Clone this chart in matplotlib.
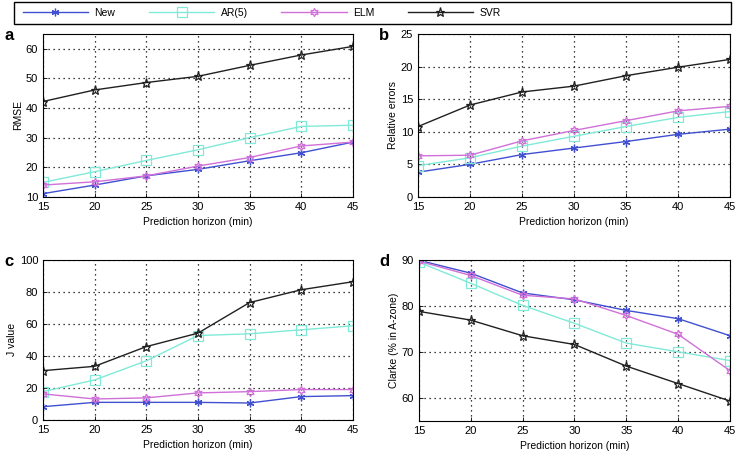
import matplotlib
matplotlib.use('Agg')
import matplotlib.pyplot as plt
from matplotlib.patches import Rectangle

plt.rcParams['font.family'] = ['Liberation Sans', 'DejaVu Sans']

horizon = [15, 20, 25, 30, 35, 40, 45]
series_names = ['New', 'AR(5)', 'ELM', 'SVR']

rmse_new = [11.1, 14.0, 17.1, 19.3, 22.2, 24.9, 28.5]
rmse_ar = [14.9, 18.5, 22.3, 25.9, 30.0, 33.8, 34.2]
rmse_elm = [14.0, 15.1, 17.1, 20.4, 23.3, 27.2, 28.5]
rmse_svr = [42.2, 46.1, 48.6, 50.7, 54.4, 57.9, 60.8]

rel_new = [3.8, 5.0, 6.5, 7.5, 8.5, 9.6, 10.4]
rel_ar = [4.8, 6.0, 7.8, 9.3, 10.8, 12.2, 13.1]
rel_elm = [6.3, 6.4, 8.6, 10.2, 11.7, 13.2, 13.9]
rel_svr = [10.8, 14.1, 16.1, 17.0, 18.6, 19.9, 21.1]

j_new = [8.3, 11.0, 11.0, 11.0, 10.6, 14.6, 15.2]
j_ar = [17.7, 25.0, 36.9, 52.7, 53.8, 56.3, 58.8]
j_elm = [16.3, 13.1, 13.8, 16.9, 17.7, 19.0, 19.0]
j_svr = [30.8, 33.5, 45.8, 54.2, 73.3, 81.3, 86.3]

clarke_new = [89.9, 87.1, 82.8, 81.3, 79.0, 77.2, 73.5]
clarke_ar = [89.5, 84.9, 80.1, 76.2, 71.9, 70.0, 68.1]
clarke_elm = [89.7, 86.6, 82.3, 81.5, 77.9, 73.8, 65.9]
clarke_svr = [78.8, 76.9, 73.5, 71.6, 66.9, 63.1, 59.3]

colors = ['#4050d0', '#80ead8', '#d070d8', '#202020']
markers = [(6, 2, 0), 's', (6, 1, 0), '*']
msizes = [5.5, 6.5, 6, 6.5]

panels = [
    ('a', 'RMSE', (10, 65), [10, 20, 30, 40, 50, 60],
     [rmse_new, rmse_ar, rmse_elm, rmse_svr], [0.0584, 0.571, 0.421, 0.355]),
    ('b', 'Relative errors', (0, 25), [0, 5, 10, 15, 20, 25],
     [rel_new, rel_ar, rel_elm, rel_svr], [0.568, 0.571, 0.424, 0.355]),
    ('c', 'J value', (0, 100), [0, 20, 40, 60, 80, 100],
     [j_new, j_ar, j_elm, j_svr], [0.0584, 0.085, 0.421, 0.349]),
    ('d', 'Clarke (% in A-zone)', (55, 90), [60, 70, 80, 90],
     [clarke_new, clarke_ar, clarke_elm, clarke_svr], [0.569, 0.083, 0.423, 0.351]),
]

fig = plt.figure(figsize=(7.36, 4.59), dpi=100)

handles = []
for letter, ylab, ylim, yticks, data, rect in panels:
    ax = fig.add_axes(rect)
    hs = []
    for vals, c, m, ms in zip(data, colors, markers, msizes):
        h, = ax.plot(horizon, vals, color=c, lw=1, marker=m, ms=ms,
                     mfc='none', mec=c, mew=0.9)
        hs.append(h)
    handles = hs
    ax.set_xlim(15, 45)
    ax.set_ylim(*ylim)
    ax.set_xticks(horizon)
    ax.set_yticks(yticks)
    ax.grid(True, color='black', linestyle=(0, (1, 3)), lw=0.9)
    ax.tick_params(labelsize=8, direction='in', length=3, width=0.6)
    for s in ax.spines.values():
        s.set_linewidth(0.8)
    ax.set_xlabel('Prediction horizon (min)', fontsize=7.5, labelpad=4)
    ax.set_ylabel(ylab, fontsize=7.5, labelpad=2)
    ax.text(-0.125, 0.99, letter, transform=ax.transAxes, fontsize=12,
            fontweight='bold', ha='left', va='center')

fig.patches.append(Rectangle((0.019, 0.948), 0.974, 0.048, transform=fig.transFigure,
                             fill=False, edgecolor='black', lw=1))
fig.legend(handles, series_names, loc='center left', bbox_to_anchor=(0.018, 0.972),
           ncol=4, frameon=False, fontsize=7.5, handlelength=6.3,
           handletextpad=0.6, columnspacing=3.2)

fig.savefig('out.png', dpi=100)
